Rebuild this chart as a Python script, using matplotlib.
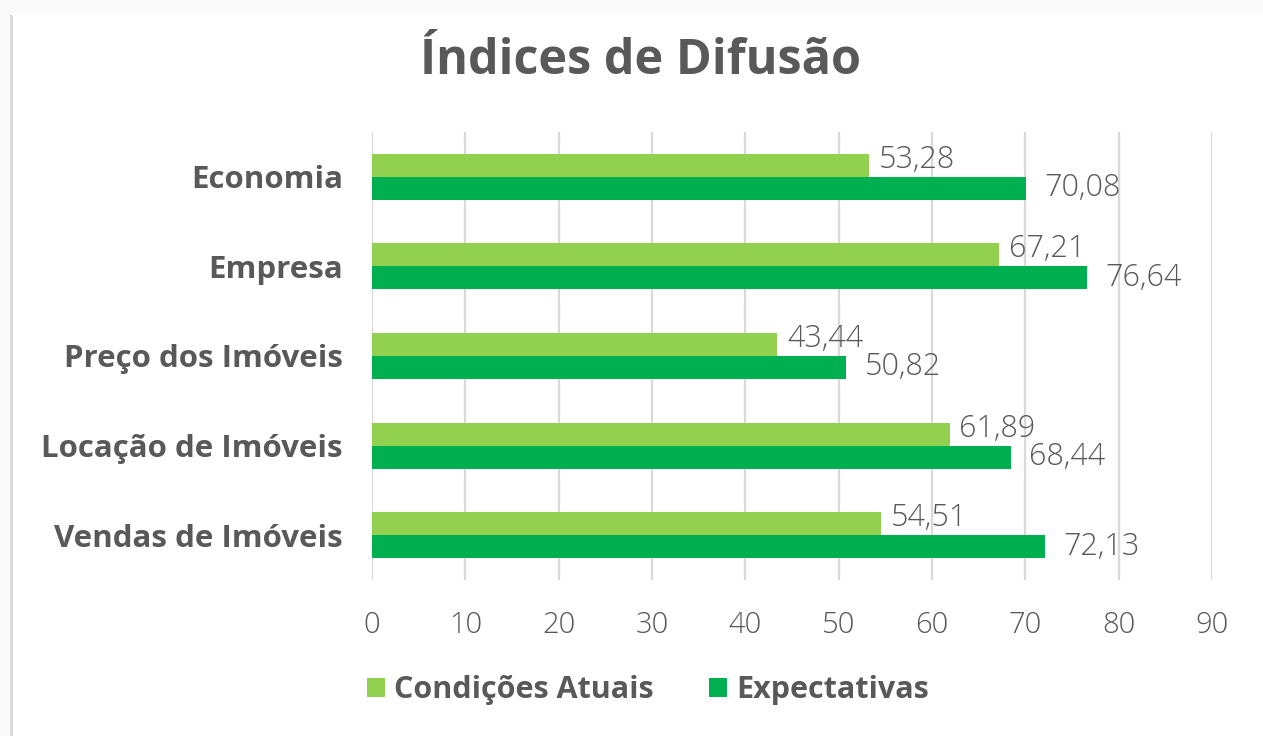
import matplotlib
matplotlib.use("Agg")
import matplotlib.pyplot as plt
import numpy as np
from matplotlib.patches import Rectangle

plt.rcParams['font.family'] = ['Open Sans', 'DejaVu Sans']

categorias = ['Economia', 'Empresa', 'Preço dos Imóveis', 'Locação de Imóveis', 'Vendas de Imóveis']
condicoes_atuais = [53.28, 67.21, 43.44, 61.89, 54.51]
expectativas = [70.08, 76.64, 50.82, 68.44, 72.13]
series = ['Condições Atuais', 'Expectativas']
ticks_x = [0, 10, 20, 30, 40, 50, 60, 70, 80, 90]

cor_clara = '#92D050'
cor_escura = '#00B050'
cinza = '#595959'

fig = plt.figure(figsize=(12.63, 7.36), dpi=100)
fig.patch.set_facecolor('white')
# faixas cinza claro do print (topo e esquerda)
fig.add_artist(Rectangle((0, 1 - 14 / 736), 1, 14 / 736, transform=fig.transFigure,
                         facecolor='#fafafa', edgecolor='none'))
fig.add_artist(Rectangle((0, 0), 10 / 1263, 1, transform=fig.transFigure,
                         facecolor='#fafafa', edgecolor='none'))
fig.add_artist(Rectangle((10 / 1263, 0), 3 / 1263, 1 - 15 / 736, transform=fig.transFigure,
                         facecolor='#dadada', edgecolor='none'))

ax = fig.add_axes([372 / 1263, 1 - 580 / 736, 840 / 1263, 448 / 736])
y = np.arange(len(categorias))
h = 0.256
b1 = ax.barh(y - h / 2, condicoes_atuais, height=h, color=cor_clara, label=series[0], zorder=3)
b2 = ax.barh(y + h / 2, expectativas, height=h, color=cor_escura, label=series[1], zorder=3)

for bar, v in zip(b1, condicoes_atuais):
    ax.annotate(f'{v:.2f}'.replace('.', ','), (v, bar.get_y() + bar.get_height() / 2),
                xytext=(7, 4), textcoords='offset points', va='center', ha='left',
                fontsize=22, fontweight='light', color=cinza, zorder=4)
for bar, v in zip(b2, expectativas):
    ax.annotate(f'{v:.2f}'.replace('.', ','), (v, bar.get_y() + bar.get_height() / 2),
                xytext=(13, 0), textcoords='offset points', va='center', ha='left',
                fontsize=22, fontweight='light', color=cinza, zorder=4)

ax.set_xlim(0, 90)
ax.set_ylim(len(categorias) - 0.5, -0.5)
ax.set_xticks(ticks_x)
ax.set_yticks(y)
ax.set_yticklabels(categorias, fontsize=22.5, fontweight='bold', color=cinza)
for t in ax.get_xticklabels():
    t.set_fontweight('light')
ax.tick_params(axis='x', labelsize=21, labelcolor=cinza, length=0, pad=22)
ax.tick_params(axis='y', length=0, pad=21)
ax.grid(axis='x', color='#d9d9d9', linewidth=1.6, zorder=0)
for s in ax.spines.values():
    s.set_visible(False)

fig.text(641 / 1263, 1 - 62 / 736, 'Índices de Difusão', ha='center', va='center',
         fontsize=35, fontweight='bold', color=cinza)

fig.legend(handles=[b1, b2], labels=series, loc='center', bbox_to_anchor=(648 / 1263, 1 - 690 / 736),
           ncol=2, frameon=False, prop={'size': 22, 'weight': 'bold'}, labelcolor=cinza,
           handlelength=0.6, handleheight=0.6, handletextpad=0.3, columnspacing=1.8)

fig.savefig('out.png', dpi=100)
